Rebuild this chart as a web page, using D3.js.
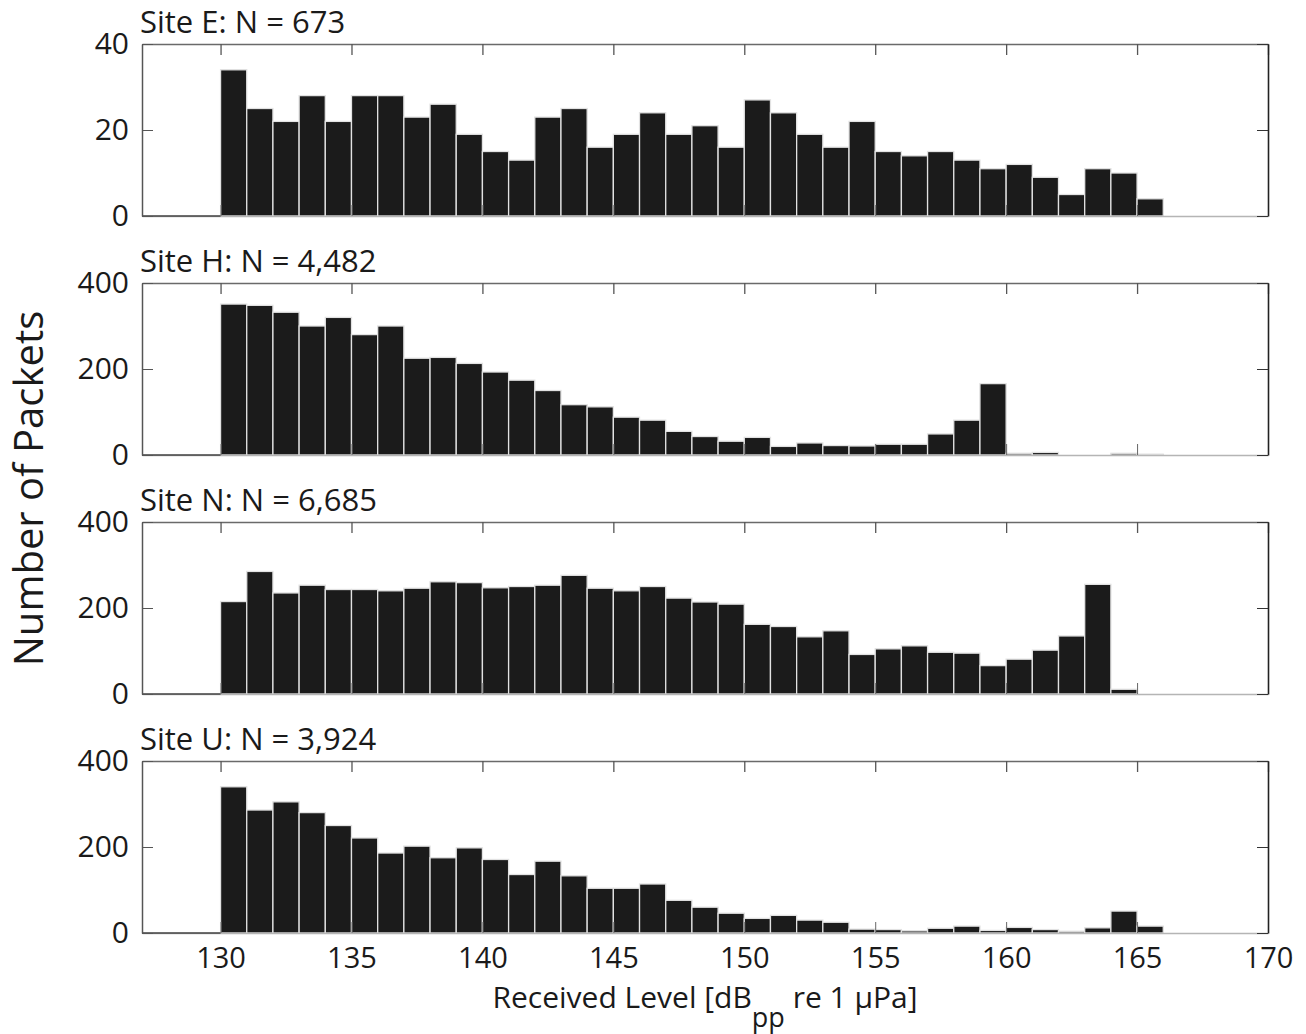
<!DOCTYPE html>
<html>
<head>
<meta charset="utf-8">
<script src="https://cdn.jsdelivr.net/npm/d3@7"></script>
<style>
  body { margin: 0; background: #fff; }
  text { font-family: "Open Sans", "Noto Sans", sans-serif; fill: #1a1a1a; }
</style>
</head>
<body>
<svg id="chart" width="1306" height="1034"></svg>
<script>
// 1 dB bins, left edge of each bin
const binStart = [130, 131, 132, 133, 134, 135, 136, 137, 138, 139,
                  140, 141, 142, 143, 144, 145, 146, 147, 148, 149,
                  150, 151, 152, 153, 154, 155, 156, 157, 158, 159,
                  160, 161, 162, 163, 164, 165];

const siteE = [34, 25, 22, 28, 22, 28, 28, 23, 26, 19,
               15, 13, 23, 25, 16, 19, 24, 19, 21, 16,
               27, 24, 19, 16, 22, 15, 14, 15, 13, 11,
               12, 9, 5, 11, 10, 4];
const siteH = [351, 348, 332, 300, 320, 280, 300, 225, 227, 213,
               193, 174, 150, 117, 112, 88, 81, 55, 43, 32,
               41, 20, 28, 22, 21, 25, 25, 49, 81, 166,
               4, 6, 0, 0, 4, 2];
const siteN = [215, 285, 235, 253, 243, 243, 240, 246, 261, 259,
               247, 250, 253, 276, 246, 240, 250, 223, 214, 209,
               162, 157, 133, 147, 92, 105, 112, 97, 95, 66,
               81, 102, 135, 255, 11, 0];
const siteU = [340, 286, 305, 280, 250, 221, 186, 202, 175, 198,
               171, 136, 167, 133, 104, 104, 114, 76, 60, 46,
               34, 41, 30, 25, 9, 8, 5, 11, 16, 6,
               13, 8, 4, 12, 51, 16];

const titles = ["Site E: N = 673", "Site H: N = 4,482", "Site N: N = 6,685", "Site U: N = 3,924"];
const series = [siteE, siteH, siteN, siteU];
const yMax = [40, 400, 400, 400];
const yTicks = [[0, 20, 40], [0, 200, 400], [0, 200, 400], [0, 200, 400]];
const xDomain = [127, 170];
const xTicks = [130, 135, 140, 145, 150, 155, 160, 165, 170];

const svg = d3.select("#chart");

const left = 142, right = 1268;
const panelTop0 = 44, panelStep = 239, panelH = 172;
const tick = 11;

const x = d3.scaleLinear().domain(xDomain).range([left, right]);

series.forEach(function (values, i) {
    let top = panelTop0 + i * panelStep;
    let y = d3.scaleLinear().domain([0, yMax[i]]).range([top + panelH, top]);
    let g = svg.append("g").attr("class", "panel");

    // bars
    g.selectAll("rect.bar")
        .data(values.map((v, k) => ({ x0: binStart[k], v: v })))
        .join("rect")
        .attr("class", "bar")
        .attr("x", d => x(d.x0))
        .attr("y", d => y(d.v))
        .attr("width", d => x(d.x0 + 1) - x(d.x0))
        .attr("height", d => y(0) - y(d.v))
        .attr("fill", "#1b1b1b")
        .attr("stroke", "#e2e2e2")
        .attr("stroke-width", 1.3);

    // bottom axis, inward ticks, labels only on the last panel
    let bottom = g.append("g")
        .attr("transform", `translate(0,${y(0)})`)
        .call(d3.axisBottom(x).tickValues(xTicks).tickSizeInner(-tick).tickSizeOuter(0)
            .tickPadding(14)
            .tickFormat(i === series.length - 1 ? d3.format("d") : ""));
    bottom.select(".domain").attr("stroke", "#b5b5b5").attr("stroke-width", 1.5);
    bottom.selectAll(".tick line").attr("stroke", "#666");
    bottom.selectAll("text").attr("font-size", "29px").attr("fill", "#1a1a1a");

    // empty stretch before the first bin keeps a dark baseline
    g.append("line")
        .attr("x1", x(xDomain[0])).attr("x2", x(binStart[0]))
        .attr("y1", y(0)).attr("y2", y(0))
        .attr("stroke", "#444").attr("stroke-width", 1.6);

    let topAx = g.append("g")
        .attr("transform", `translate(0,${top})`)
        .call(d3.axisTop(x).tickValues(xTicks).tickSizeInner(-tick).tickSizeOuter(0).tickFormat(""));
    topAx.select(".domain").attr("stroke", "#6a6a6a").attr("stroke-width", 1.6);
    topAx.selectAll(".tick line").attr("stroke", "#555").attr("stroke-width", 1.3);

    let leftAx = g.append("g")
        .attr("transform", `translate(${left},0)`)
        .call(d3.axisLeft(y).tickValues(yTicks[i]).tickSizeInner(-tick).tickSizeOuter(0).tickPadding(13));
    leftAx.select(".domain").attr("stroke", "#555").attr("stroke-width", 1.5);
    leftAx.selectAll(".tick line").attr("stroke", "#555");
    leftAx.selectAll("text").attr("font-size", "30px").attr("fill", "#1a1a1a");

    let rightAx = g.append("g")
        .attr("transform", `translate(${right},0)`)
        .call(d3.axisRight(y).tickValues(yTicks[i]).tickSizeInner(-tick).tickSizeOuter(0).tickFormat(""));
    rightAx.select(".domain").attr("stroke", "#222").attr("stroke-width", 1.6);
    rightAx.selectAll(".tick line").attr("stroke", "#333");

    // panel title
    g.append("text")
        .attr("x", left - 2)
        .attr("y", top - 11)
        .attr("font-size", "31px")
        .text(titles[i]);
});

// y label
svg.append("text")
    .attr("transform", `translate(43,${(panelTop0 + panelTop0 + 3 * panelStep + panelH) / 2}) rotate(-90)`)
    .attr("text-anchor", "middle")
    .attr("font-size", "40px")
    .text("Number of Packets");

// x label with subscript
let xl = svg.append("text")
    .attr("x", (left + right) / 2)
    .attr("y", 1008)
    .attr("text-anchor", "middle")
    .attr("font-size", "30px");
xl.append("tspan").text("Received Level [dB");
xl.append("tspan").attr("dy", 19).attr("font-size", "27px").text("pp");
xl.append("tspan").attr("dy", -19).text(" re 1 \u03bcPa]");
</script>
</body>
</html>
